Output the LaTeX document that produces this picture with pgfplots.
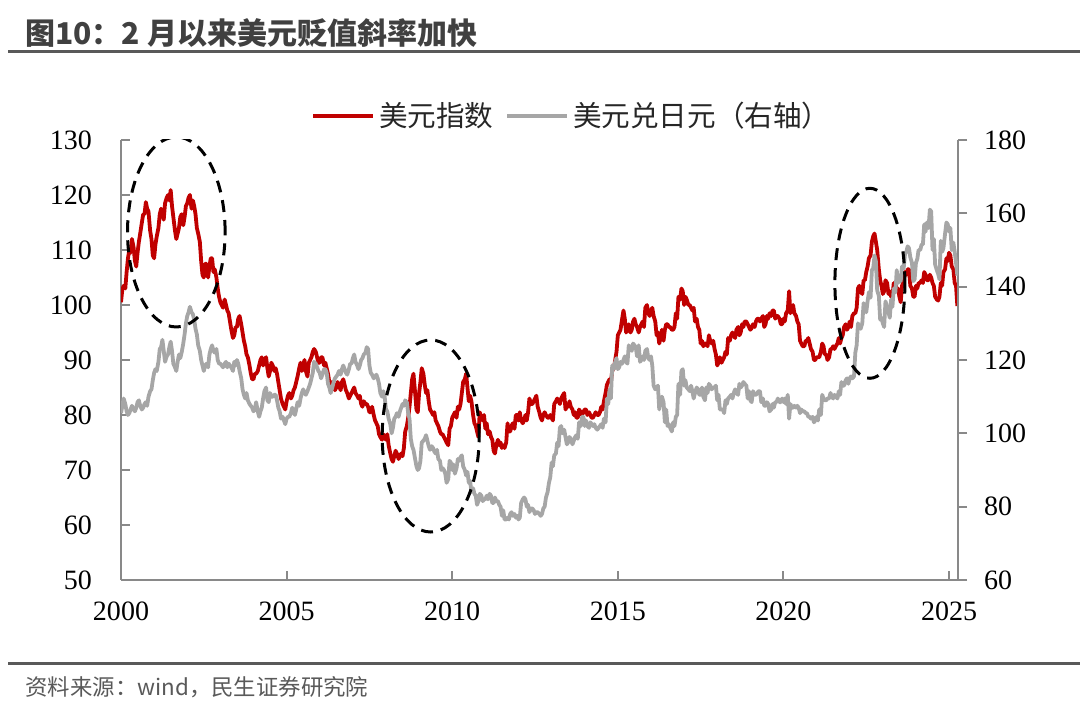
\documentclass[border=0pt]{standalone}
\usepackage{fontspec}
\setmainfont{Liberation Serif}
\newfontfamily\cjk{Noto Sans CJK SC}
\usepackage{pgfplots}
\pgfplotsset{compat=1.18}
\usepackage{pgfplotstable}
\definecolor{dxyred}{RGB}{192,0,0}
\definecolor{jpygray}{RGB}{166,166,166}
\definecolor{axgray}{RGB}{137,137,137}
\definecolor{txtgray}{RGB}{64,64,64}
\definecolor{srcgray}{RGB}{89,89,89}

% US dollar index: month starts
\pgfplotstableread{
x y
2000.00 100.5
2000.08 103.5
2000.17 106.0
2000.25 110.0
2000.33 112.0
2000.42 108.0
2000.50 109.5
2000.58 113.0
2000.67 116.5
2000.75 118.7
2000.83 117.0
2000.92 112.0
2001.00 108.5
2001.08 112.5
2001.17 116.5
2001.25 117.0
2001.33 118.5
2001.42 120.0
2001.50 120.9
2001.58 116.0
2001.67 112.0
2001.75 114.0
2001.83 116.5
2001.92 116.0
2002.00 118.5
2002.08 120.0
2002.17 119.0
2002.25 116.5
2002.33 113.0
2002.42 108.0
2002.50 105.0
2002.58 107.5
2002.67 107.0
2002.75 108.5
2002.83 106.5
2002.92 103.0
2003.00 100.5
2003.08 99.5
2003.17 100.0
2003.25 98.5
2003.33 95.5
2003.42 94.5
2003.50 96.0
2003.58 98.0
2003.67 95.0
2003.75 92.5
2003.83 90.5
2003.92 87.5
2004.00 86.5
2004.08 87.5
2004.17 89.0
2004.25 90.5
2004.33 90.0
2004.42 88.5
2004.50 88.0
2004.58 89.0
2004.67 88.5
2004.75 86.0
2004.83 83.0
2004.92 81.5
2005.00 82.5
2005.08 84.0
2005.17 83.5
2005.25 85.0
2005.33 87.0
2005.42 89.5
2005.50 89.0
2005.58 88.0
2005.67 89.5
2005.75 90.5
2005.83 92.0
2005.92 90.5
2006.00 89.5
2006.08 90.5
2006.17 89.5
2006.25 87.5
2006.33 85.0
2006.42 85.5
2006.50 85.0
2006.58 85.5
2006.67 86.0
2006.75 85.5
2006.83 84.0
2006.92 83.5
2007.00 84.5
2007.08 84.0
2007.17 83.0
2007.25 82.0
2007.33 82.5
2007.42 82.0
2007.50 80.5
2007.58 81.5
2007.67 79.0
2007.75 78.0
2007.83 76.0
2007.92 76.5
2008.00 75.5
2008.08 74.5
2008.17 72.0
2008.25 72.5
2008.33 73.0
2008.42 72.5
2008.50 72.5
2008.58 77.0
2008.67 79.5
2008.75 84.0
2008.83 87.5
2008.92 81.0
2009.00 84.0
2009.08 88.5
2009.17 85.5
2009.25 84.5
2009.33 81.0
2009.42 80.0
2009.50 79.0
2009.58 78.0
2009.67 76.5
2009.75 76.0
2009.83 75.0
2009.92 77.5
2010.00 79.5
2010.08 80.5
2010.17 81.5
2010.25 82.0
2010.33 86.0
2010.42 87.5
2010.50 82.5
2010.58 82.5
2010.67 78.5
2010.75 77.0
2010.83 80.5
2010.92 79.0
2011.00 77.5
2011.08 76.5
2011.17 76.0
2011.25 73.5
2011.33 74.5
2011.42 74.5
2011.50 74.0
2011.58 74.0
2011.67 78.5
2011.75 77.0
2011.83 78.5
2011.92 80.0
2012.00 79.0
2012.08 79.0
2012.17 79.0
2012.25 79.0
2012.33 83.0
2012.42 82.0
2012.50 83.0
2012.58 81.5
2012.67 79.5
2012.75 80.0
2012.83 80.0
2012.92 79.5
2013.00 79.5
2013.08 82.0
2013.17 83.0
2013.25 82.0
2013.33 83.5
2013.42 81.0
2013.50 81.5
2013.58 81.5
2013.67 80.0
2013.75 79.5
2013.83 81.0
2013.92 80.0
2014.00 81.0
2014.08 80.0
2014.17 80.0
2014.25 79.5
2014.33 80.5
2014.42 80.0
2014.50 81.5
2014.58 82.5
2014.67 85.5
2014.75 86.5
2014.83 88.0
2014.92 90.0
2015.00 94.5
2015.08 95.5
2015.17 99.0
2015.25 95.0
2015.33 96.5
2015.42 95.5
2015.50 97.5
2015.58 96.0
2015.67 96.0
2015.75 97.0
2015.83 99.5
2015.92 98.5
2016.00 99.0
2016.08 98.0
2016.17 94.5
2016.25 93.0
2016.33 95.5
2016.42 95.5
2016.50 96.5
2016.58 96.0
2016.67 95.5
2016.75 98.5
2016.83 101.5
2016.92 103.0
2017.00 100.0
2017.08 101.0
2017.17 100.0
2017.25 99.0
2017.33 97.0
2017.42 96.0
2017.50 93.0
2017.58 92.5
2017.67 93.0
2017.75 94.5
2017.83 93.0
2017.92 92.0
2018.00 89.0
2018.08 90.5
2018.17 90.0
2018.25 91.5
2018.33 94.0
2018.42 94.5
2018.50 94.5
2018.58 95.5
2018.67 94.5
2018.75 96.5
2018.83 97.0
2018.92 96.5
2019.00 95.5
2019.08 96.5
2019.17 97.0
2019.25 97.5
2019.33 97.5
2019.42 96.0
2019.50 98.0
2019.58 98.5
2019.67 99.0
2019.75 97.5
2019.83 98.0
2019.92 96.5
2020.00 97.5
2020.08 98.5
2020.17 102.5
2020.25 99.5
2020.33 98.5
2020.42 97.0
2020.50 93.5
2020.58 92.5
2020.67 93.5
2020.75 94.0
2020.83 92.0
2020.92 90.0
2021.00 90.5
2021.08 90.5
2021.17 93.0
2021.25 91.0
2021.33 90.0
2021.42 92.0
2021.50 92.5
2021.58 92.5
2021.67 94.0
2021.75 94.0
2021.83 96.0
2021.92 95.5
2022.00 97.0
2022.08 98.0
2022.17 98.5
2022.25 103.0
2022.33 102.5
2022.42 104.5
2022.50 106.0
2022.58 108.5
2022.67 111.5
2022.75 113.0
2022.83 110.0
2022.92 104.5
2023.00 102.0
2023.08 104.5
2023.17 102.0
2023.25 101.5
2023.33 104.0
2023.42 102.5
2023.50 101.5
2023.58 103.5
2023.67 106.0
2023.75 106.5
2023.83 103.5
2023.92 101.5
2024.00 103.5
2024.08 104.0
2024.17 104.5
2024.25 106.0
2024.33 104.5
2024.42 105.5
2024.50 104.0
2024.58 101.5
2024.67 100.8
2024.75 104.0
2024.83 106.0
2024.92 108.5
2025.00 109.5
2025.08 107.0
2025.17 104.0
2025.25 99.8
}\dxyA

% US dollar index: mid-month readings
\pgfplotstableread{
x y
2000.04 102.8
2000.13 103.0
2000.21 108.5
2000.29 109.5
2000.38 110.5
2000.46 107.0
2000.54 111.5
2000.63 115.0
2000.71 116.5
2000.79 117.5
2000.88 113.5
2000.96 109.0
2001.04 111.0
2001.13 114.0
2001.21 117.5
2001.29 115.5
2001.38 119.5
2001.46 119.0
2001.54 118.0
2001.63 113.5
2001.71 113.0
2001.79 116.0
2001.88 114.5
2001.96 118.0
2002.04 119.5
2002.13 117.5
2002.21 118.0
2002.29 114.0
2002.38 111.5
2002.46 105.5
2002.54 107.5
2002.63 105.0
2002.71 108.5
2002.79 106.0
2002.88 105.0
2002.96 101.5
2003.04 100.0
2003.13 101.0
2003.21 99.0
2003.29 97.0
2003.38 94.0
2003.46 96.0
2003.54 97.5
2003.63 96.5
2003.71 93.5
2003.79 91.0
2003.88 89.0
2003.96 86.5
2004.04 87.5
2004.13 88.0
2004.21 90.0
2004.29 89.0
2004.38 90.5
2004.46 87.0
2004.54 89.5
2004.63 88.0
2004.71 87.5
2004.79 84.5
2004.88 82.0
2004.96 81.0
2005.04 83.5
2005.13 83.0
2005.21 84.5
2005.29 86.0
2005.38 88.5
2005.46 88.0
2005.54 90.0
2005.63 87.0
2005.71 90.0
2005.79 91.5
2005.88 91.5
2005.96 89.5
2006.04 90.5
2006.13 89.0
2006.21 88.5
2006.29 86.0
2006.38 86.0
2006.46 84.5
2006.54 86.0
2006.63 84.5
2006.71 86.5
2006.79 84.5
2006.88 83.0
2006.96 84.0
2007.04 85.0
2007.13 83.5
2007.21 83.5
2007.29 81.5
2007.38 82.0
2007.46 81.5
2007.54 80.5
2007.63 80.0
2007.71 78.5
2007.79 76.5
2007.88 75.5
2007.96 76.0
2008.04 76.5
2008.13 73.0
2008.21 71.5
2008.29 73.5
2008.38 72.0
2008.46 73.0
2008.54 74.0
2008.63 78.0
2008.71 81.5
2008.79 86.5
2008.88 84.0
2008.96 80.5
2009.04 86.0
2009.13 87.5
2009.21 84.0
2009.29 82.5
2009.38 80.5
2009.46 80.5
2009.54 78.5
2009.63 77.0
2009.71 76.5
2009.79 75.5
2009.88 74.5
2009.96 78.0
2010.04 80.0
2010.13 79.5
2010.21 81.0
2010.29 84.0
2010.38 86.5
2010.46 85.0
2010.54 83.5
2010.63 80.0
2010.71 78.0
2010.79 76.0
2010.88 79.5
2010.96 80.0
2011.04 78.5
2011.13 77.0
2011.21 75.5
2011.29 73.0
2011.38 75.5
2011.46 75.0
2011.54 74.5
2011.63 75.0
2011.71 77.0
2011.79 78.0
2011.88 77.5
2011.96 80.0
2012.04 80.5
2012.13 78.5
2012.21 80.0
2012.29 80.5
2012.38 82.0
2012.46 82.5
2012.54 83.5
2012.63 80.5
2012.71 79.0
2012.79 80.5
2012.88 79.5
2012.96 80.0
2013.04 79.0
2013.13 82.5
2013.21 82.5
2013.29 83.0
2013.38 84.0
2013.46 81.5
2013.54 82.5
2013.63 81.0
2013.71 80.5
2013.79 79.5
2013.88 80.5
2013.96 80.5
2014.04 81.0
2014.13 80.5
2014.21 79.5
2014.29 80.0
2014.38 80.0
2014.46 80.5
2014.54 81.0
2014.63 84.0
2014.71 86.0
2014.79 86.0
2014.88 88.5
2014.96 91.5
2015.04 95.0
2015.13 97.5
2015.21 97.5
2015.29 95.5
2015.38 95.0
2015.46 97.0
2015.54 96.5
2015.63 95.0
2015.71 96.5
2015.79 96.0
2015.88 100.0
2015.96 98.0
2016.04 99.5
2016.13 97.0
2016.21 95.0
2016.29 94.0
2016.38 93.5
2016.46 96.5
2016.54 96.0
2016.63 95.5
2016.71 96.0
2016.79 97.5
2016.88 101.0
2016.96 102.5
2017.04 101.5
2017.13 100.0
2017.21 99.5
2017.29 99.5
2017.38 97.5
2017.46 95.5
2017.54 93.5
2017.63 93.0
2017.71 92.5
2017.79 93.5
2017.88 93.5
2017.96 91.0
2018.04 89.5
2018.13 89.5
2018.21 90.5
2018.29 91.0
2018.38 93.5
2018.46 95.0
2018.54 94.0
2018.63 96.0
2018.71 95.0
2018.79 96.0
2018.88 97.0
2018.96 96.0
2019.04 95.8
2019.13 96.0
2019.21 97.5
2019.29 97.0
2019.38 98.0
2019.46 96.5
2019.54 97.5
2019.63 98.0
2019.71 99.0
2019.79 98.0
2019.88 97.5
2019.96 96.5
2020.04 97.0
2020.13 99.0
2020.21 98.5
2020.29 100.0
2020.38 98.0
2020.46 96.5
2020.54 93.0
2020.63 92.5
2020.71 93.5
2020.79 93.0
2020.88 91.5
2020.96 90.0
2021.04 90.5
2021.13 91.5
2021.21 92.5
2021.29 91.0
2021.38 90.5
2021.46 92.0
2021.54 92.0
2021.63 93.0
2021.71 93.0
2021.79 94.5
2021.88 96.5
2021.96 96.0
2022.04 96.0
2022.13 98.5
2022.21 99.5
2022.29 103.5
2022.38 102.0
2022.46 104.5
2022.54 107.0
2022.63 109.0
2022.71 112.5
2022.79 111.5
2022.88 106.5
2022.96 103.5
2023.04 102.5
2023.13 104.0
2023.21 102.5
2023.29 101.5
2023.38 104.0
2023.46 103.0
2023.54 100.5
2023.63 104.5
2023.71 105.5
2023.79 106.5
2023.88 103.0
2023.96 101.5
2024.04 103.0
2024.13 104.0
2024.21 104.0
2024.29 105.5
2024.38 104.5
2024.46 105.0
2024.54 103.5
2024.63 101.0
2024.71 101.5
2024.79 103.5
2024.88 106.5
2024.96 108.0
2025.04 109.0
2025.13 106.5
2025.21 103.5
}\dxyB

% USD/JPY: month starts
\pgfplotstableread{
x y
2000.00 105.5
2000.08 109.5
2000.17 106.0
2000.25 105.5
2000.33 107.5
2000.42 106.0
2000.50 108.5
2000.58 107.5
2000.67 107.0
2000.75 108.5
2000.83 110.0
2000.92 112.0
2001.00 116.5
2001.08 117.0
2001.17 123.0
2001.25 125.5
2001.33 119.5
2001.42 121.5
2001.50 125.0
2001.58 119.0
2001.67 117.0
2001.75 121.5
2001.83 122.0
2001.92 127.0
2002.00 132.0
2002.08 134.5
2002.17 132.5
2002.25 128.5
2002.33 124.0
2002.42 120.0
2002.50 117.0
2002.58 119.0
2002.67 121.5
2002.75 124.0
2002.83 122.0
2002.92 120.0
2003.00 119.0
2003.08 118.0
2003.17 119.5
2003.25 119.0
2003.33 118.0
2003.42 119.5
2003.50 120.0
2003.58 117.0
2003.67 112.0
2003.75 109.5
2003.83 109.0
2003.92 107.5
2004.00 106.0
2004.08 108.5
2004.17 104.5
2004.25 107.0
2004.33 111.5
2004.42 109.0
2004.50 111.0
2004.58 110.0
2004.67 110.5
2004.75 107.0
2004.83 104.0
2004.92 103.5
2005.00 104.0
2005.08 104.5
2005.17 107.0
2005.25 105.0
2005.33 108.5
2005.42 109.5
2005.50 112.0
2005.58 110.5
2005.67 112.5
2005.75 115.0
2005.83 119.5
2005.92 118.0
2006.00 116.5
2006.08 116.0
2006.17 117.5
2006.25 113.5
2006.33 111.0
2006.42 114.0
2006.50 115.5
2006.58 117.0
2006.67 117.5
2006.75 117.5
2006.83 116.0
2006.92 119.0
2007.00 120.5
2007.08 119.5
2007.17 117.5
2007.25 120.0
2007.33 121.5
2007.42 123.5
2007.50 118.5
2007.58 116.0
2007.67 115.5
2007.75 115.0
2007.83 111.0
2007.92 111.5
2008.00 106.5
2008.08 104.0
2008.17 100.0
2008.25 104.0
2008.33 105.5
2008.42 106.0
2008.50 108.0
2008.58 109.0
2008.67 105.5
2008.75 98.5
2008.83 95.5
2008.92 91.0
2009.00 90.5
2009.08 97.5
2009.17 98.5
2009.25 98.0
2009.33 95.5
2009.42 96.0
2009.50 94.5
2009.58 93.0
2009.67 90.0
2009.75 90.0
2009.83 86.5
2009.92 92.5
2010.00 90.0
2010.08 89.0
2010.17 93.0
2010.25 93.5
2010.33 91.0
2010.42 88.5
2010.50 86.5
2010.58 84.0
2010.67 83.5
2010.75 80.5
2010.83 83.5
2010.92 81.5
2011.00 82.0
2011.08 82.0
2011.17 83.0
2011.25 81.0
2011.33 81.5
2011.42 80.5
2011.50 77.5
2011.58 76.5
2011.67 77.0
2011.75 78.0
2011.83 77.5
2011.92 77.0
2012.00 76.5
2012.08 81.0
2012.17 82.5
2012.25 80.0
2012.33 78.5
2012.42 79.5
2012.50 78.0
2012.58 78.5
2012.67 77.5
2012.75 79.5
2012.83 82.5
2012.92 86.5
2013.00 92.0
2013.08 94.0
2013.17 97.5
2013.25 101.5
2013.33 100.0
2013.42 99.0
2013.50 97.5
2013.58 98.5
2013.67 98.0
2013.75 99.5
2013.83 103.0
2013.92 104.5
2014.00 102.0
2014.08 102.0
2014.17 103.0
2014.25 102.0
2014.33 101.5
2014.42 101.5
2014.50 102.5
2014.58 104.0
2014.67 109.5
2014.75 112.0
2014.83 118.5
2014.92 119.5
2015.00 117.5
2015.08 119.5
2015.17 120.0
2015.25 119.5
2015.33 124.0
2015.42 122.5
2015.50 124.0
2015.58 121.0
2015.67 119.5
2015.75 121.0
2015.83 122.5
2015.92 120.5
2016.00 121.0
2016.08 113.0
2016.17 112.5
2016.25 106.5
2016.33 110.0
2016.42 103.0
2016.50 102.0
2016.58 101.5
2016.67 103.0
2016.75 104.5
2016.83 113.5
2016.92 117.0
2017.00 113.0
2017.08 112.5
2017.17 111.5
2017.25 111.5
2017.33 111.0
2017.42 112.0
2017.50 110.5
2017.58 110.0
2017.67 112.5
2017.75 113.5
2017.83 112.0
2017.92 112.5
2018.00 109.0
2018.08 106.5
2018.17 106.5
2018.25 109.0
2018.33 109.5
2018.42 110.5
2018.50 111.0
2018.58 111.0
2018.67 113.5
2018.75 113.0
2018.83 113.5
2018.92 109.5
2019.00 109.0
2019.08 111.5
2019.17 110.5
2019.25 111.5
2019.33 108.5
2019.42 107.5
2019.50 108.5
2019.58 106.0
2019.67 108.0
2019.75 108.5
2019.83 109.5
2019.92 108.5
2020.00 108.5
2020.08 108.0
2020.17 104.0
2020.25 107.0
2020.33 107.5
2020.42 107.5
2020.50 105.5
2020.58 106.0
2020.67 105.5
2020.75 104.5
2020.83 104.0
2020.92 103.0
2021.00 104.5
2021.08 106.5
2021.17 110.5
2021.25 109.0
2021.33 109.5
2021.42 111.0
2021.50 109.5
2021.58 110.0
2021.67 111.5
2021.75 114.0
2021.83 113.0
2021.92 115.0
2022.00 115.0
2022.08 115.0
2022.17 122.0
2022.25 130.0
2022.33 128.5
2022.42 135.5
2022.50 133.0
2022.58 138.5
2022.67 144.5
2022.75 148.5
2022.83 139.0
2022.92 131.0
2023.00 130.0
2023.08 136.0
2023.17 133.0
2023.25 136.5
2023.33 139.5
2023.42 144.5
2023.50 142.5
2023.58 145.5
2023.67 149.0
2023.75 151.0
2023.83 148.0
2023.92 141.5
2024.00 146.5
2024.08 150.0
2024.17 151.5
2024.25 157.0
2024.33 157.5
2024.42 161.0
2024.50 150.0
2024.58 146.0
2024.67 143.5
2024.75 152.5
2024.83 150.5
2024.92 157.5
2025.00 155.0
2025.08 150.0
2025.17 149.5
2025.25 143.0
}\jpyA

% USD/JPY: mid-month readings
\pgfplotstableread{
x y
2000.04 107.5
2000.13 108.0
2000.21 105.0
2000.29 106.5
2000.38 106.5
2000.46 107.0
2000.54 109.0
2000.63 106.5
2000.71 108.0
2000.79 107.5
2000.88 111.5
2000.96 114.5
2001.04 117.5
2001.13 119.5
2001.21 123.5
2001.29 122.5
2001.38 121.0
2001.46 123.5
2001.54 122.5
2001.63 118.0
2001.71 119.5
2001.79 120.5
2001.88 124.5
2001.96 130.0
2002.04 133.0
2002.13 133.0
2002.21 131.0
2002.29 127.0
2002.38 122.5
2002.46 118.5
2002.54 118.5
2002.63 118.0
2002.71 123.0
2002.79 122.5
2002.88 123.0
2002.96 119.0
2003.04 118.5
2003.13 119.0
2003.21 118.0
2003.29 118.5
2003.38 117.0
2003.46 118.5
2003.54 119.0
2003.63 115.0
2003.71 110.5
2003.79 111.0
2003.88 108.0
2003.96 107.0
2004.04 106.5
2004.13 106.0
2004.21 106.0
2004.29 109.5
2004.38 112.5
2004.46 108.5
2004.54 110.0
2004.63 110.5
2004.71 109.0
2004.79 106.0
2004.88 104.5
2004.96 102.5
2005.04 104.5
2005.13 105.5
2005.21 106.0
2005.29 106.5
2005.38 107.5
2005.46 111.0
2005.54 111.0
2005.63 111.5
2005.71 113.5
2005.79 116.5
2005.88 119.0
2005.96 117.0
2006.04 115.0
2006.13 117.5
2006.21 116.5
2006.29 112.5
2006.38 112.5
2006.46 115.0
2006.54 116.0
2006.63 116.0
2006.71 118.5
2006.79 116.5
2006.88 117.5
2006.96 119.0
2007.04 121.5
2007.13 118.5
2007.21 118.5
2007.29 120.5
2007.38 122.0
2007.46 123.0
2007.54 116.5
2007.63 115.0
2007.71 116.0
2007.79 113.5
2007.88 110.0
2007.96 110.0
2008.04 106.0
2008.13 102.5
2008.21 101.5
2008.29 104.5
2008.38 104.5
2008.46 107.0
2008.54 107.5
2008.63 108.5
2008.71 104.0
2008.79 96.5
2008.88 93.0
2008.96 90.0
2009.04 92.5
2009.13 98.0
2009.21 99.5
2009.29 96.5
2009.38 96.5
2009.46 95.0
2009.54 95.5
2009.63 92.5
2009.71 90.5
2009.79 89.0
2009.88 87.5
2009.96 92.0
2010.04 91.5
2010.13 90.5
2010.21 92.5
2010.29 94.0
2010.38 90.0
2010.46 89.5
2010.54 87.0
2010.63 85.0
2010.71 83.0
2010.79 81.5
2010.88 83.0
2010.96 82.0
2011.04 83.0
2011.13 83.5
2011.21 81.0
2011.29 82.5
2011.38 81.5
2011.46 80.0
2011.54 79.0
2011.63 76.5
2011.71 76.5
2011.79 78.5
2011.88 78.0
2011.96 77.5
2012.04 77.0
2012.13 82.0
2012.21 82.0
2012.29 80.5
2012.38 79.5
2012.46 79.0
2012.54 78.5
2012.63 78.0
2012.71 78.0
2012.79 80.0
2012.88 84.0
2012.96 88.0
2013.04 91.0
2013.13 94.5
2013.21 96.5
2013.29 102.0
2013.38 101.0
2013.46 97.0
2013.54 99.0
2013.63 97.0
2013.71 99.0
2013.79 98.5
2013.88 102.0
2013.96 104.5
2014.04 103.5
2014.13 101.5
2014.21 102.5
2014.29 102.5
2014.38 101.0
2014.46 102.0
2014.54 101.5
2014.63 103.0
2014.71 108.0
2014.79 109.5
2014.88 117.5
2014.96 120.5
2015.04 118.0
2015.13 119.0
2015.21 121.0
2015.29 119.0
2015.38 123.0
2015.46 124.5
2015.54 123.5
2015.63 124.0
2015.71 120.0
2015.79 120.0
2015.88 123.0
2015.96 120.0
2016.04 118.5
2016.13 112.0
2016.21 113.0
2016.29 109.0
2016.38 108.5
2016.46 106.5
2016.54 102.5
2016.63 100.5
2016.71 102.0
2016.79 105.0
2016.88 110.5
2016.96 117.5
2017.04 114.5
2017.13 112.0
2017.21 113.0
2017.29 109.5
2017.38 112.5
2017.46 110.5
2017.54 112.5
2017.63 109.0
2017.71 111.0
2017.79 113.0
2017.88 112.5
2017.96 113.0
2018.04 110.5
2018.13 106.5
2018.21 105.5
2018.29 108.0
2018.38 110.0
2018.46 109.5
2018.54 112.0
2018.63 110.5
2018.71 112.5
2018.79 114.0
2018.88 113.0
2018.96 111.5
2019.04 108.5
2019.13 110.5
2019.21 111.0
2019.29 111.5
2019.38 109.5
2019.46 107.5
2019.54 108.0
2019.63 106.5
2019.71 107.0
2019.79 108.5
2019.88 108.5
2019.96 109.5
2020.04 109.5
2020.13 110.5
2020.21 108.0
2020.29 107.0
2020.38 107.0
2020.46 107.0
2020.54 106.5
2020.63 106.0
2020.71 105.5
2020.79 104.5
2020.88 104.5
2020.96 103.5
2021.04 103.5
2021.13 105.0
2021.21 109.5
2021.29 109.0
2021.38 109.5
2021.46 110.0
2021.54 110.5
2021.63 109.5
2021.71 110.5
2021.79 113.0
2021.88 114.5
2021.96 113.5
2022.04 115.5
2022.13 115.5
2022.21 124.0
2022.29 129.0
2022.38 130.0
2022.46 134.5
2022.54 136.0
2022.63 137.0
2022.71 145.0
2022.79 147.0
2022.88 137.5
2022.96 131.5
2023.04 129.0
2023.13 134.5
2023.21 131.5
2023.29 134.5
2023.38 138.5
2023.46 141.0
2023.54 141.5
2023.63 145.0
2023.71 149.5
2023.79 150.5
2023.88 146.5
2023.96 142.0
2024.04 147.5
2024.13 150.0
2024.21 151.5
2024.29 155.0
2024.38 156.0
2024.46 160.5
2024.54 153.0
2024.63 144.5
2024.71 142.0
2024.79 149.5
2024.88 154.5
2024.96 157.0
2025.04 156.0
2025.13 152.0
2025.21 146.5
}\jpyB

\pgfplotstablevertcat{\dxyA}{\dxyB}
\pgfplotstablesort[sort key=x]{\dxy}{\dxyA}
\pgfplotstablevertcat{\jpyA}{\jpyB}
\pgfplotstablesort[sort key=x]{\jpy}{\jpyA}

\begin{document}
\begin{tikzpicture}
\useasboundingbox (0,0) rectangle (540pt,355pt);
% title
\node[anchor=west, inner sep=0pt, text=txtgray, font=\cjk\bfseries\fontsize{15}{18}\selectfont] at (12.5pt,338.5pt) {图10：2 月以来美元贬值斜率加快};
\draw[srcgray, line width=1.5pt] (4pt,329pt) -- (540pt,329pt);
\draw[srcgray, line width=1.5pt] (4pt,23pt) -- (540pt,23pt);
\node[anchor=west, inner sep=0pt, text=srcgray, font=\cjk\fontsize{11.2}{13}\selectfont] at (12.5pt,11.5pt) {资料来源：wind，民生证券研究院};

\begin{axis}[
  at={(60.5pt,65pt)}, anchor=south west,
  scale only axis, width=418.5pt, height=220pt,
  xmin=2000, xmax=2025.27, ymin=50, ymax=130,
  axis x line=bottom, axis y line=left,
  axis line style={axgray, line width=1pt, -},
  xtick={2000,2005,...,2025}, ytick={50,60,...,130},
  tick align=inside, major tick length=4.5pt,
  every tick/.style={axgray, line width=1pt},
  xticklabel style={font=\fontsize{14}{16}\selectfont, yshift=-7.5pt},
  yticklabel style={font=\fontsize{14}{16}\selectfont, xshift=-11pt},
  /pgf/number format/assume math mode=true,
  /pgf/number format/1000 sep={},
]
\addplot[dxyred, line width=1.9pt, line join=round] table {\dxy};
\end{axis}

\begin{axis}[
  at={(60.5pt,65pt)}, anchor=south west,
  scale only axis, width=418.5pt, height=220pt,
  xmin=2000, xmax=2025.27, ymin=60, ymax=180,
  axis y line=right, axis x line=none,
  axis line style={axgray, line width=1pt, -},
  ytick={60,80,...,180},
  tick align=outside, major tick length=4.5pt,
  every tick/.style={axgray, line width=1pt},
  yticklabel style={font=\fontsize{14}{16}\selectfont, xshift=5pt},
  /pgf/number format/assume math mode=true,
  /pgf/number format/1000 sep={},
  legend columns=2,
  legend image code/.code={\draw[#1, line width=1.8pt] (0pt,0pt) -- (30pt,0pt);},
  legend style={at={(0.540,1.0545)}, anchor=center, draw=none, fill=none,
    font=\cjk\fontsize{14.3}{17}\selectfont, text=black!85,
    /tikz/every even column/.append style={column sep=4pt}},
]
\addlegendimage{dxyred}
\addlegendentry{美元指数}
\addplot[jpygray, line width=1.9pt, line join=round] table {\jpy};
\addlegendentry{美元兑日元（右轴）}
\draw[black, line width=1.5pt, dash pattern=on 6pt off 4pt] (axis cs:2001.67,154.91) ellipse [x radius=24.4pt, y radius=47.5pt];
\draw[black, line width=1.5pt, dash pattern=on 6pt off 4pt] (axis cs:2009.35,99.27) ellipse [x radius=24.25pt, y radius=48pt];
\draw[black, line width=1.5pt, dash pattern=on 6pt off 4pt] (axis cs:2022.61,140.92) ellipse [x radius=17.5pt, y radius=47.5pt];
\end{axis}
\end{tikzpicture}
\end{document}
